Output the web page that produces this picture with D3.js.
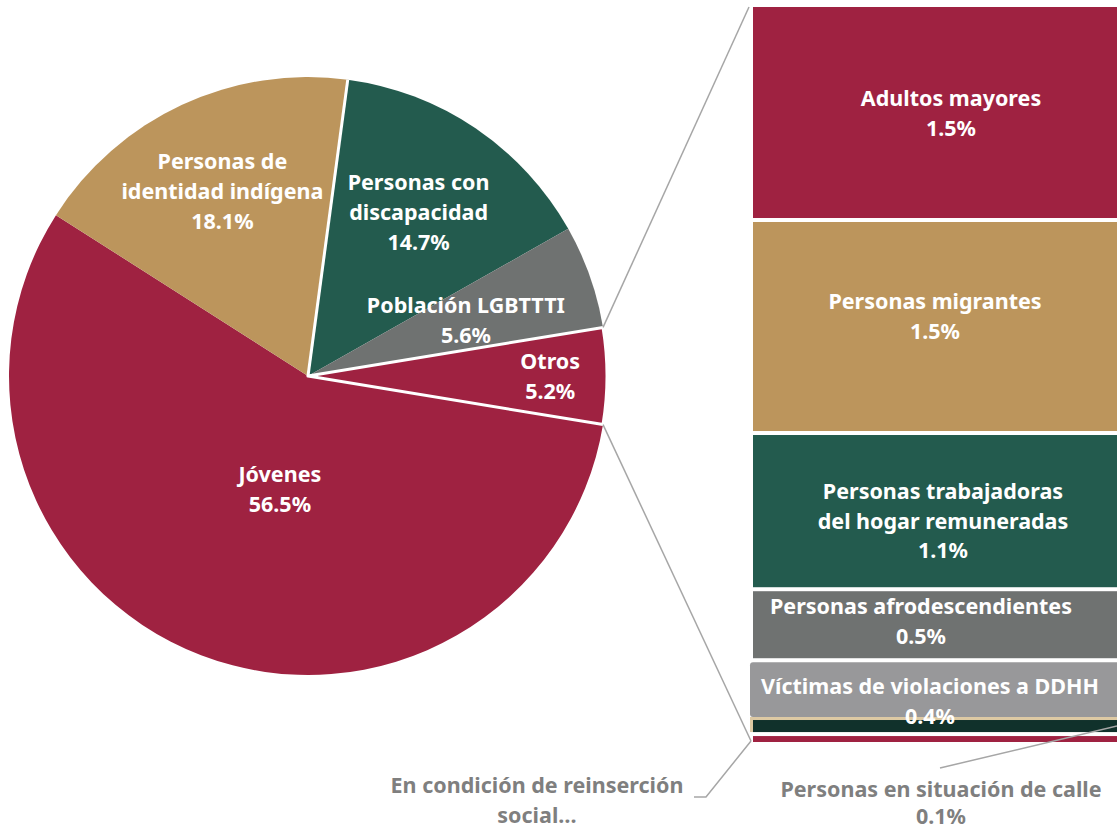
<!DOCTYPE html>
<html>
<head>
<meta charset="utf-8">
<script src="https://cdn.jsdelivr.net/npm/d3@7"></script>
<style>
  body { margin: 0; background: #fff; overflow: hidden; }
  text { font-family: "Noto Sans", Lato, sans-serif; font-weight: 700; }
</style>
</head>
<body>
<script>
// pie data
const pieNames = [["Jóvenes"], ["Personas de", "identidad indígena"], ["Personas con", "discapacidad"], ["Población LGBTTTI"], ["Otros"]];
const pieValues = [56.5, 18.1, 14.7, 5.6, 5.2];
const pieColors = ["#9f2241", "#bc955c", "#235b4e", "#6f7271", "#9f2241"];

// bar ("Otros") data
const barNames = [["Adultos mayores"], ["Personas migrantes"], ["Personas trabajadoras", "del hogar remuneradas"], ["Personas afrodescendientes"], ["Víctimas de violaciones a DDHH"], ["En condición de reinserción", "social…"], ["Personas en situación de calle"]];
const barValues = [1.5, 1.5, 1.1, 0.5, 0.4, 0.12, 0.07];
const barColors = ["#9f2241", "#bc955c", "#235b4e", "#6f7271", "#98989a", "#10312b", "#9f2241"];

const W = 1117, H = 831;
const cx = 308, cy = 376, R = 299;
const FS = 21.5;
// label placement (radius fraction, angle nudge in degrees)
const labelRad = [0.39, 0.68, 0.66, 0.56, 0.81];
const labelNudge = [-7, 0, 0, 0, 0];
// bar label placement
const barLabelX = [951, 935, 943, 921, 930];
const barLabelDy = [0, -10, 10, -3, 13];

const svg = d3.select("body").append("svg").attr("width", W).attr("height", H);

// Otros is centred on 3 o'clock
const total = d3.sum(pieValues);
const otrosAngle = pieValues[4] / total * 2 * Math.PI;
const start = Math.PI / 2 + otrosAngle / 2;
const pie = d3.pie().sort(null).startAngle(start).endAngle(start + 2 * Math.PI);
const arcs = pie(pieValues);
const arc = d3.arc().innerRadius(0).outerRadius(R);

const g = svg.append("g").attr("transform", `translate(${cx},${cy})`);
g.selectAll("path.slice")
  .data(arcs)
  .enter()
  .append("path")
  .attr("class", "slice")
  .attr("d", arc)
  .attr("fill", (d, i) => pieColors[i]);

// white separator on the left edge of discapacidad
const edge = a => [R * Math.sin(a), -R * Math.cos(a)];
const pSep = edge(arcs[2].startAngle);
g.append("line").attr("x1", 0).attr("y1", 0).attr("x2", pSep[0]).attr("y2", pSep[1])
  .attr("stroke", "#fff").attr("stroke-width", 3);
// white outline around Otros
g.append("path").datum(arcs[4]).attr("d", arc).attr("fill", "none")
  .attr("stroke", "#fff").attr("stroke-width", 3).attr("stroke-linejoin", "round");

arcs.forEach((d, i) => {
  const mid = (d.startAngle + d.endAngle) / 2 + labelNudge[i] * Math.PI / 180;
  const r = R * labelRad[i];
  const x = r * Math.sin(mid), y = -r * Math.cos(mid);
  const lines = pieNames[i].concat([pieValues[i].toFixed(1) + "%"]);
  const t = g.append("text").attr("text-anchor", "middle").attr("fill", "#fff").attr("font-size", FS);
  lines.forEach((l, j) => {
    t.append("tspan").attr("x", x).attr("y", y + (j - (lines.length - 1) / 2) * 30).attr("dy", "0.35em").text(l);
  });
});

// bar
const bx0 = 753, bx1 = 1149;
const barTotal = d3.sum(barValues);
const y = d3.scaleLinear().domain([0, barTotal]).range([7, 744]);
const cum = d3.cumsum(barValues);
const segs = barValues.map((v, i) => ({ i, v, c0: i ? cum[i - 1] : 0, c1: cum[i] }));

segs.forEach(s => {
  const top = y(s.c0) + (s.i ? 2 : 0), bot = y(s.c1) - 2;
  if (s.i === 4) {
    svg.append("rect").attr("x", bx0 - 3).attr("y", top).attr("width", bx1 - bx0 + 3).attr("height", bot - top + 2)
      .attr("rx", 3).attr("fill", barColors[s.i]);
  } else if (s.i === 5) {
    svg.append("rect").attr("x", bx0 - 3).attr("y", top - 2).attr("width", bx1 - bx0 + 3).attr("height", bot - top + 2)
      .attr("fill", "#ddc9a3");
    svg.append("rect").attr("x", bx0).attr("y", top + 1).attr("width", bx1 - bx0).attr("height", bot - top - 1)
      .attr("fill", barColors[s.i]);
  } else {
    svg.append("rect").attr("x", bx0).attr("y", top).attr("width", bx1 - bx0).attr("height", bot - top)
      .attr("fill", barColors[s.i]);
  }
});

// labels inside the bar (first five segments)
segs.slice(0, 5).forEach(s => {
  const lines = barNames[s.i].concat([s.v.toFixed(1) + "%"]);
  const my = (y(s.c0) + y(s.c1)) / 2 + barLabelDy[s.i];
  const t = svg.append("text").attr("text-anchor", "middle").attr("fill", "#fff").attr("font-size", FS);
  lines.forEach((l, j) => {
    t.append("tspan").attr("x", barLabelX[s.i]).attr("y", my + (j - (lines.length - 1) / 2) * 29.5).attr("dy", "0.35em").text(l);
  });
});

// connector lines from the pie to the bar
const pTop = edge(arcs[4].startAngle), pBot = edge(arcs[4].endAngle);
svg.append("line").attr("x1", cx + pTop[0]).attr("y1", cy + pTop[1]).attr("x2", bx0 - 4).attr("y2", y(0))
  .attr("stroke", "#a6a6a6").attr("stroke-width", 1.5);
svg.append("line").attr("x1", cx + pBot[0]).attr("y1", cy + pBot[1]).attr("x2", bx0 - 2).attr("y2", y(barTotal) - 3)
  .attr("stroke", "#a6a6a6").attr("stroke-width", 1.5);

// outside labels for the two smallest segments
const grey = "#7f7f7f";
const rein = segs[5], calle = segs[6];
svg.append("polyline")
  .attr("points", `${bx0 - 2},${y(barTotal) - 3} 706,797 694,797`)
  .attr("fill", "none").attr("stroke", "#a6a6a6").attr("stroke-width", 1.5);
const t1 = svg.append("text").attr("text-anchor", "middle").attr("fill", grey).attr("font-size", FS);
barNames[rein.i].forEach((l, j) => {
  t1.append("tspan").attr("x", 537).attr("y", 785 + j * 30).attr("dy", "0.35em").text(l);
});

svg.append("line").attr("x1", 940).attr("y1", 768).attr("x2", W).attr("y2", y(rein.c0) + 9)
  .attr("stroke", "#a6a6a6").attr("stroke-width", 1.5);
const t2 = svg.append("text").attr("text-anchor", "middle").attr("fill", grey).attr("font-size", FS);
barNames[calle.i].concat([calle.v.toFixed(1) + "%"]).forEach((l, j) => {
  t2.append("tspan").attr("x", 941).attr("y", 789 + j * 27).attr("dy", "0.35em").text(l);
});
</script>
</body>
</html>
